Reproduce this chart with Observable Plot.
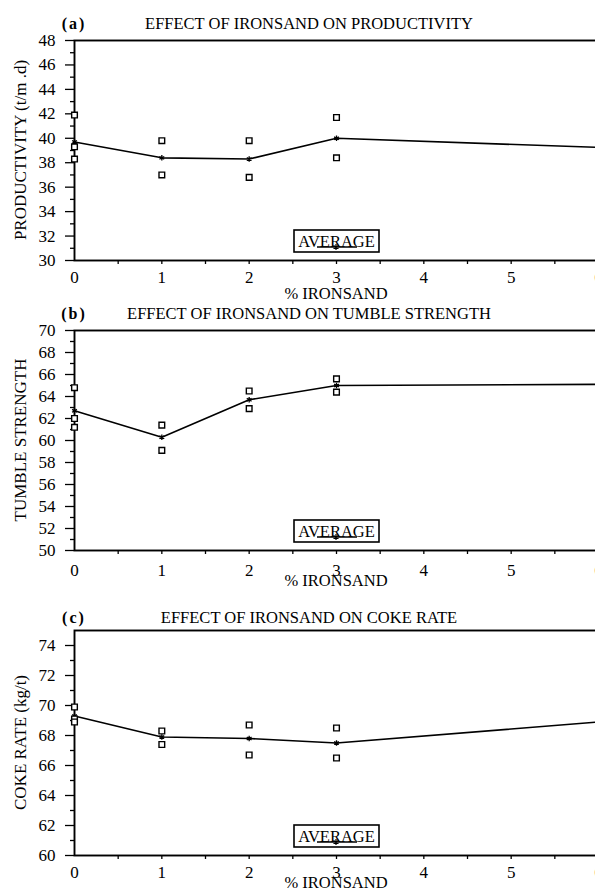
<!DOCTYPE html>
<html><head><meta charset="utf-8">
<script src="https://cdn.jsdelivr.net/npm/d3@7"></script>
<script src="https://cdn.jsdelivr.net/npm/@observablehq/plot@0.6"></script>
<style>
body{margin:0;background:#fff;overflow:hidden}
#chart svg{display:block}
</style></head><body><div id="chart"></div>
<script>
// ---- shared x axis ----
const xTicks = [0, 1, 2, 3, 4, 5, 6];
const xHalfTicks = [0.5, 1, 1.5, 2, 2.5, 3, 3.5, 4, 4.5, 5, 5.5, 6];
const xLabel = "% IRONSAND";
const legendLabel = "AVERAGE";

// ---- (a) productivity ----
const prodTitle = "EFFECT OF IRONSAND ON PRODUCTIVITY";
const prodYLabel = "PRODUCTIVITY (t/m .d)";
const prodX = [0, 0, 0, 1, 1, 2, 2, 3, 3];
const prodValues = [41.9, 39.3, 38.3, 39.8, 37.0, 39.8, 36.8, 41.7, 38.4];
const prodAvgX = [0, 1, 2, 3, 6];
const prodAvg = [39.7, 38.4, 38.3, 40.0, 39.25];
const prodYTicks = [30, 32, 34, 36, 38, 40, 42, 44, 46, 48];
const prodYMinor = [31, 33, 35, 37, 39, 41, 43, 45, 47];

// ---- (b) tumble strength ----
const tumbleTitle = "EFFECT OF IRONSAND ON TUMBLE STRENGTH";
const tumbleYLabel = "TUMBLE STRENGTH";
const tumbleX = [0, 0, 0, 1, 1, 2, 2, 3, 3];
const tumbleValues = [64.8, 62.0, 61.2, 61.4, 59.1, 64.5, 62.9, 65.6, 64.4];
const tumbleAvgX = [0, 1, 2, 3, 6];
const tumbleAvg = [62.7, 60.3, 63.7, 65.0, 65.1];
const tumbleYTicks = [50, 52, 54, 56, 58, 60, 62, 64, 66, 68, 70];
const tumbleYMinor = [51, 53, 55, 57, 59, 61, 63, 65, 67, 69];

// ---- (c) coke rate ----
const cokeTitle = "EFFECT OF IRONSAND ON COKE RATE";
const cokeYLabel = "COKE RATE (kg/t)";
const cokeX = [0, 0, 0, 1, 1, 2, 2, 3, 3];
const cokeValues = [69.9, 69.1, 68.9, 68.3, 67.4, 68.7, 66.7, 68.5, 66.5];
const cokeAvgX = [0, 1, 2, 3, 6];
const cokeAvg = [69.3, 67.9, 67.8, 67.5, 68.9];
const cokeYTicks = [60, 62, 64, 66, 68, 70, 72, 74];
const cokeYMinor = [61, 63, 65, 67, 69, 71, 73];

const FONT = "'Liberation Serif', 'Times New Roman', serif";

const panels = [
  {tag: "(a)", title: prodTitle, ylabel: prodYLabel, x: prodX, vals: prodValues, avgX: prodAvgX, avg: prodAvg,
   domain: [30, 48], yTicks: prodYTicks, yMinor: prodYMinor, height: 297, top: 40, bottom: 37, titleGap: 17, tickPad: 10, xlabGap: 33},
  {tag: "(b)", title: tumbleTitle, ylabel: tumbleYLabel, x: tumbleX, vals: tumbleValues, avgX: tumbleAvgX, avg: tumbleAvg,
   domain: [50, 70], yTicks: tumbleYTicks, yMinor: tumbleYMinor, height: 296, top: 33, bottom: 43, titleGap: 17, tickPad: 13, xlabGap: 30},
  {tag: "(c)", title: cokeTitle, ylabel: cokeYLabel, x: cokeX, vals: cokeValues, avgX: cokeAvgX, avg: cokeAvg,
   domain: [60, 75], yTicks: cokeYTicks, yMinor: cokeYMinor, height: 298, top: 37, bottom: 36, titleGap: 13, tickPad: 10, xlabGap: 27.5}
];

function annotations(p) {
  return (index, scales, values, dims) => {
    const g = d3.create("svg:g").attr("font-family", FONT).attr("fill", "black");
    const top = dims.marginTop;
    const bot = dims.height - dims.marginBottom;
    const mid = (top + bot) / 2;
    g.append("text").attr("x", 74).attr("y", top - p.titleGap).attr("dy", "0.35em")
      .attr("text-anchor", "middle").attr("font-size", 16).attr("font-weight", "bold")
      .attr("letter-spacing", 2).text(p.tag);
    g.append("text").attr("x", 309).attr("y", top - p.titleGap).attr("dy", "0.35em")
      .attr("text-anchor", "middle").attr("font-size", 16.5).text(p.title);
    g.append("text").attr("transform", `translate(20,${mid}) rotate(-90)`).attr("dy", "0.35em")
      .attr("text-anchor", "middle").attr("font-size", 17).text(p.ylabel);
    const cx = scales.x(3);
    g.append("text").attr("x", cx).attr("y", bot + p.xlabGap).attr("dy", "0.35em")
      .attr("text-anchor", "middle").attr("font-size", 16.5).text(xLabel);
    // legend box
    const lg = g.append("g");
    lg.append("rect").attr("x", cx - 42).attr("y", bot - 30).attr("width", 85).attr("height", 22)
      .attr("fill", "white").attr("stroke", "black").attr("stroke-width", 1.6);
    lg.append("text").attr("x", cx + 0.5).attr("y", bot - 19).attr("dy", "0.35em")
      .attr("text-anchor", "middle").attr("font-size", 16.5).text(legendLabel);
    lg.append("line").attr("x1", cx - 19).attr("x2", cx + 21).attr("y1", bot - 13).attr("y2", bot - 13)
      .attr("stroke", "black").attr("stroke-width", 1.3);
    lg.append("path").attr("d", d3.symbol(d3.symbolAsterisk, 24)()).attr("transform", `translate(${cx},${bot - 13})`)
      .attr("stroke", "black").attr("stroke-width", 1.2).attr("fill", "none");
    return g.node();
  };
}

function panel(p) {
  const pts = p.x.map((x, i) => ({x, v: p.vals[i]}));
  const avg = p.avgX.map((x, i) => ({x, v: p.avg[i]}));
  return Plot.plot({
    width: 595, height: p.height,
    marginLeft: 74, marginRight: -3, marginTop: p.top, marginBottom: p.bottom,
    style: {fontFamily: FONT, fontSize: "17px", color: "#000", background: "#fff", overflow: "visible"},
    x: {domain: [0, 6]},
    y: {domain: p.domain},
    marks: [
      Plot.axisY(p.yTicks, {tickSize: 9, tickPadding: 10, label: null, fontSize: 17, strokeWidth: 1.3}),
      Plot.axisY(p.yMinor, {tickSize: 4, text: null, label: null, strokeWidth: 1.3}),
      Plot.axisX(xTicks, {tickSize: 0, tickPadding: p.tickPad, label: null, fontSize: 17}),
      Plot.axisX(xHalfTicks, {tickSize: 4, text: null, label: null, strokeWidth: 1.3}),
      Plot.frame({stroke: "black", strokeWidth: 1.9}),
      Plot.line(avg, {x: "x", y: "v", stroke: "black", strokeWidth: 1.6}),
      Plot.dot(avg, {x: "x", y: "v", symbol: "asterisk", r: 2.6, stroke: "black", strokeWidth: 1.3}),
      Plot.dot(pts, {x: "x", y: "v", symbol: "square", r: 3.2, stroke: "black", strokeWidth: 1.4, fill: "white"}),
      annotations(p)
    ]
  });
}

const root = document.getElementById("chart");
for (const p of panels) root.appendChild(panel(p));
</script>
</body></html>
